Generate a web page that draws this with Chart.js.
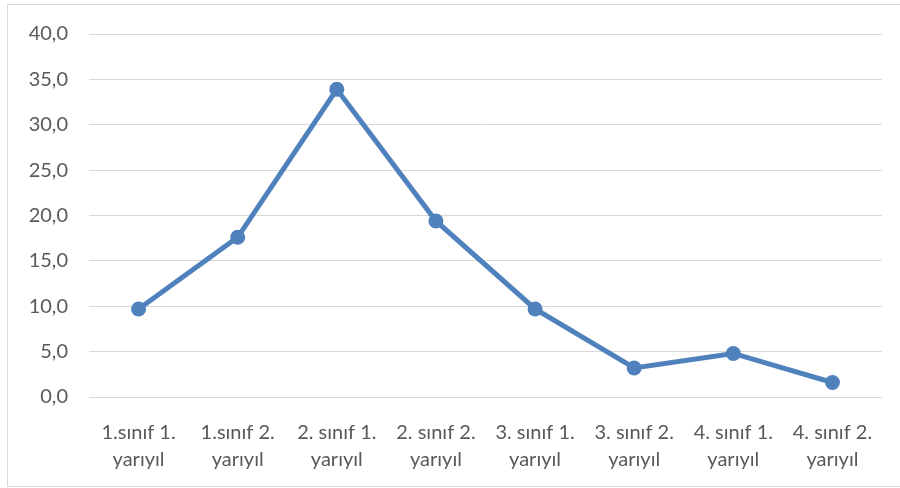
<!DOCTYPE html>
<html>
<head>
<meta charset="utf-8">
<script src="https://cdn.jsdelivr.net/npm/chart.js@4"></script>
<style>
  html, body { margin: 0; padding: 0; background: #fff; }
  #wrap { position: relative; width: 900px; height: 488px; overflow: hidden; }
  #frame { position: absolute; left: 7px; top: 4px; width: 900px; height: 481px; border: 1px solid #d9d9d9; }
  #chart { position: absolute; left: 0; top: 0; }
</style>
</head>
<body>
<div id="wrap">
  <div id="frame"></div>
  <canvas id="chart" width="900" height="488"></canvas>
</div>
<script>
const categories = [
  ['1.sınıf 1.', 'yarıyıl'],
  ['1.sınıf 2.', 'yarıyıl'],
  ['2. sınıf 1.', 'yarıyıl'],
  ['2. sınıf 2.', 'yarıyıl'],
  ['3. sınıf 1.', 'yarıyıl'],
  ['3. sınıf 2.', 'yarıyıl'],
  ['4. sınıf 1.', 'yarıyıl'],
  ['4. sınıf 2.', 'yarıyıl']
];
const values = [9.7, 17.6, 33.9, 19.4, 9.7, 3.2, 4.8, 1.6];
const yMin = 0;
const yMax = 40;
const yStep = 5;

const ctx = document.getElementById('chart').getContext('2d');
Chart.defaults.font.family = 'Lato, "Open Sans", sans-serif';
Chart.defaults.font.size = 20;
Chart.defaults.color = '#595959';

new Chart(ctx, {
  type: 'line',
  data: {
    labels: categories,
    datasets: [{
      data: values,
      borderColor: '#4f81bd',
      backgroundColor: '#4f81bd',
      borderWidth: 5,
      pointRadius: 7.5,
      pointHoverRadius: 7.5,
      pointBackgroundColor: '#4f81bd',
      pointBorderWidth: 0,
      tension: 0
    }]
  },
  options: {
    responsive: false,
    animation: false,
    layout: { padding: { top: 34, right: 18, bottom: 0, left: 0 } },
    plugins: {
      legend: { display: false },
      tooltip: { enabled: false }
    },
    scales: {
      y: {
        min: yMin,
        max: yMax,
        ticks: {
          stepSize: yStep,
          padding: 21,
          callback: (v) => v.toFixed(1).replace('.', ',')
        },
        grid: { color: '#d9d9d9', lineWidth: 1, drawTicks: false },
        border: { display: false },
        afterFit: (s) => { s.width = 89; }
      },
      x: {
        offset: true,
        ticks: {
          padding: 22,
          maxRotation: 0,
          autoSkip: false,
          font: { lineHeight: 1.35 }
        },
        grid: { display: false, drawTicks: false },
        border: { display: false },
        afterFit: (s) => { s.height = 91; }
      }
    }
  }
});
</script>
</body>
</html>
